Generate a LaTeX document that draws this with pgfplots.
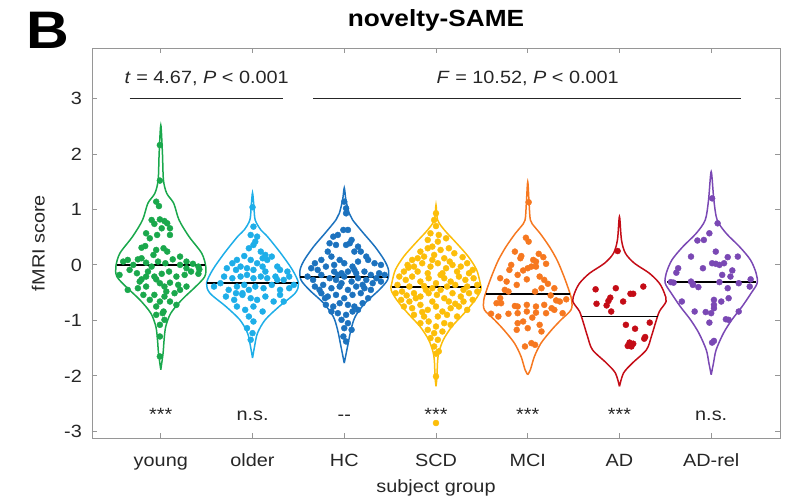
\documentclass[border=0pt]{standalone}
\usepackage{pgfplots}
\pgfplotsset{compat=1.18}
\usepackage{fontspec}
\setmainfont{Liberation Sans}[FakeStretch=1.12]
\definecolor{cyoung}{RGB}{26,168,76}
\definecolor{colder}{RGB}{30,174,232}
\definecolor{chc}{RGB}{28,114,190}
\definecolor{cscd}{RGB}{252,190,10}
\definecolor{cmci}{RGB}{246,120,32}
\definecolor{cad}{RGB}{196,12,22}
\definecolor{cadrel}{RGB}{122,72,180}
\definecolor{axgray}{RGB}{150,150,150}
\definecolor{txt}{RGB}{38,38,38}
\newcommand{\fs}{\fontsize{17.8pt}{21pt}\selectfont}
\begin{document}
\begin{tikzpicture}
\useasboundingbox (-92bp,-64bp) rectangle (703bp,438bp);
\begin{axis}[
 scale only axis, width=688bp, height=390bp,
 xmin=0.25, xmax=7.75, ymin=-3.12, ymax=3.91,
 xtick={1,2,3,4,5,6,7},
 xticklabels={young,older,HC,SCD,MCI,AD,AD-rel},
 ytick={-3,-2,-1,0,1,2,3},
 yticklabels={-3,-2,-1,0,1,2,3},
 tick align=inside, major tick length=5bp,
 axis line style={axgray, line width=0.9bp},
 tick style={axgray, line width=0.9bp},
 xticklabel style={font=\fs, text=txt, anchor=base, inner sep=0pt, yshift=-28bp},
 yticklabel style={font=\fs, text=txt, anchor=east, inner sep=0pt, xshift=-10bp},
 xlabel={subject group}, ylabel={fMRI score},
 xlabel style={font=\fs, text=txt, at={(axis description cs:0.5,-0.141)}, anchor=base},
 ylabel style={font=\fs, text=txt, at={(axis description cs:-0.078,0.5)}, anchor=center},
 title={novelty-SAME},
 title style={font=\fontsize{23.5pt}{27pt}\selectfont\bfseries, text=black, at={(axis description cs:0.5,1)}, anchor=base, yshift=16bp},
 clip=false,
]
% ---------- violin outlines ----------
\addplot[cyoung, line width=1.5bp, smooth, tension=0.5] coordinates {
(1,-1.89)(1.025,-1.59)(1.036,-1.35)(1.054,-1.11)(1.109,-0.87)(1.228,-0.63)(1.381,-0.39)(1.479,-0.21)(1.490,-0.03)(1.446,0.21)(1.308,0.51)(1.199,0.81)(1.141,1.11)(1.065,1.29)(1.029,1.53)(1.018,2.01)(1,2.52)
(0.982,2.01)(0.971,1.53)(0.935,1.29)(0.859,1.11)(0.801,0.81)(0.692,0.51)(0.554,0.21)(0.510,-0.03)(0.521,-0.21)(0.619,-0.39)(0.772,-0.63)(0.891,-0.87)(0.946,-1.11)(0.964,-1.35)(0.975,-1.59)(1,-1.89)};
\addplot[colder, line width=1.5bp, smooth, tension=0.5] coordinates {
(2,-1.68)(2.022,-1.47)(2.054,-1.23)(2.138,-0.99)(2.290,-0.75)(2.464,-0.51)(2.501,-0.33)(2.435,-0.09)(2.308,0.21)(2.163,0.51)(2.091,0.63)(2.029,0.81)(2.015,1.05)(2,1.30)
(1.985,1.05)(1.971,0.81)(1.909,0.63)(1.837,0.51)(1.692,0.21)(1.565,-0.09)(1.499,-0.33)(1.536,-0.51)(1.710,-0.75)(1.862,-0.99)(1.946,-1.23)(1.978,-1.47)(2,-1.68)};
\addplot[chc, line width=1.5bp, smooth, tension=0.5] coordinates {
(3,-1.77)(3.036,-1.47)(3.073,-1.17)(3.120,-0.93)(3.225,-0.69)(3.381,-0.45)(3.472,-0.27)(3.482,-0.09)(3.435,0.09)(3.334,0.33)(3.210,0.57)(3.091,0.81)(3.054,0.93)(3.018,1.17)(3,1.39)
(2.982,1.17)(2.946,0.93)(2.909,0.81)(2.790,0.57)(2.666,0.33)(2.565,0.09)(2.518,-0.09)(2.528,-0.27)(2.619,-0.45)(2.775,-0.69)(2.880,-0.93)(2.927,-1.17)(2.964,-1.47)(3,-1.77)};
\addplot[cscd, line width=1.5bp, smooth, tension=0.5] coordinates {
(4,-2.19)(4.012,-2.0)(4.015,-1.8)(4.029,-1.59)(4.080,-1.35)(4.174,-1.11)(4.308,-0.87)(4.428,-0.63)(4.490,-0.45)(4.482,-0.33)(4.443,-0.09)(4.352,0.15)(4.225,0.39)(4.091,0.63)(4.018,0.81)(4,1.08)
(3.982,0.81)(3.909,0.63)(3.775,0.39)(3.648,0.15)(3.557,-0.09)(3.518,-0.33)(3.510,-0.45)(3.572,-0.63)(3.692,-0.87)(3.826,-1.11)(3.920,-1.35)(3.971,-1.59)(3.985,-1.8)(3.988,-2.0)(4,-2.19)};
\addplot[cmci, line width=1.5bp, smooth, tension=0.5] coordinates {
(5,-1.98)(5.029,-1.89)(5.073,-1.65)(5.145,-1.41)(5.261,-1.17)(5.363,-0.99)(5.472,-0.81)(5.479,-0.63)(5.435,-0.39)(5.381,-0.15)(5.319,0.09)(5.236,0.33)(5.134,0.57)(5.073,0.69)(5.029,0.81)(5.015,1.11)(5,1.50)
(4.985,1.11)(4.971,0.81)(4.927,0.69)(4.866,0.57)(4.764,0.33)(4.681,0.09)(4.619,-0.15)(4.565,-0.39)(4.521,-0.63)(4.528,-0.81)(4.637,-0.99)(4.739,-1.17)(4.855,-1.41)(4.927,-1.65)(4.971,-1.89)(5,-1.98)};
\addplot[cad, line width=1.5bp, smooth, tension=0.5] coordinates {
(6,-2.19)(6.044,-1.95)(6.141,-1.77)(6.294,-1.53)(6.348,-1.29)(6.392,-1.05)(6.435,-0.84)(6.508,-0.66)(6.490,-0.51)(6.435,-0.33)(6.326,-0.15)(6.163,0.03)(6.065,0.21)(6.022,0.45)(6,0.87)
(5.978,0.45)(5.935,0.21)(5.837,0.03)(5.674,-0.15)(5.565,-0.33)(5.510,-0.51)(5.492,-0.66)(5.565,-0.84)(5.608,-1.05)(5.652,-1.29)(5.706,-1.53)(5.859,-1.77)(5.956,-1.95)(6,-2.19)};
\addplot[cadrel, line width=1.5bp, smooth, tension=0.5] coordinates {
(7,-1.98)(7.025,-1.77)(7.054,-1.53)(7.134,-1.23)(7.225,-0.99)(7.337,-0.75)(7.435,-0.51)(7.501,-0.33)(7.490,-0.15)(7.428,0.09)(7.308,0.33)(7.163,0.57)(7.065,0.81)(7.029,1.17)(7,1.68)
(6.971,1.17)(6.935,0.81)(6.837,0.57)(6.692,0.33)(6.572,0.09)(6.510,-0.15)(6.499,-0.33)(6.565,-0.51)(6.663,-0.75)(6.775,-0.99)(6.866,-1.23)(6.946,-1.53)(6.975,-1.77)(7,-1.98)};
% ---------- points ----------
\addplot[only marks, mark=*, mark size=3bp, color=cyoung, mark options={draw=cyoung, fill=cyoung}] coordinates {
(0.99,2.16)(0.99,1.52)(0.95,1.14)(0.98,1.06)(0.90,0.81)(0.93,0.74)(0.99,0.82)(1.04,0.79)(1.07,0.75)(1.10,0.66)(1.01,0.66)(0.96,0.54)(0.84,0.57)(0.88,0.48)(0.79,0.31)(0.83,0.34)(0.95,0.27)(1.03,0.30)(1.07,0.24)(1.21,0.15)(0.92,0.18)(0.59,0.06)(0.64,0.09)(0.70,0.00)(0.75,0.10)(0.84,0.04)(0.90,-0.03)(0.97,0.06)(1.05,0.03)(1.13,0.10)(1.21,0.00)(1.28,0.06)(1.35,0.02)(1.41,-0.03)(0.55,-0.18)(0.66,-0.09)(0.74,-0.15)(0.79,-0.26)(0.86,-0.12)(0.93,-0.21)(1.01,-0.16)(1.09,-0.12)(1.17,-0.21)(1.26,-0.18)(1.33,-0.12)(1.41,-0.16)(1.42,-0.08)(0.64,-0.45)(0.77,-0.30)(0.84,-0.39)(0.95,-0.26)(0.99,-0.33)(1.04,-0.39)(1.10,-0.32)(1.19,-0.36)(1.21,-0.45)(1.28,-0.39)(1.15,-0.51)(0.81,-0.54)(0.88,-0.63)(0.99,-0.66)(1.04,-0.57)(1.10,-0.66)(1.17,-0.72)(0.95,-0.75)(0.95,-0.90)(1.02,-0.87)(1.04,-0.99)(0.99,-1.08)(1.03,-0.84)(0.99,-1.29)(0.99,-1.65)(1.10,0.54)(0.79,0.12)(1.28,-0.06)(0.84,-0.21)(1.06,-0.48)(0.93,-0.54)(0.75,-0.42)};
\addplot[only marks, mark=*, mark size=3bp, color=colder, mark options={draw=colder, fill=colder}] coordinates {
(2.00,1.04)(2.01,0.69)(1.98,0.54)(2.05,0.51)(2.03,0.42)(2.01,0.36)(1.96,0.30)(2.09,0.24)(2.14,0.18)(1.91,0.16)(1.83,0.09)(1.78,0.03)(2.21,0.15)(1.98,0.09)(2.05,0.03)(2.11,-0.03)(2.16,0.09)(2.27,-0.03)(2.30,-0.09)(1.72,-0.06)(1.82,-0.09)(1.87,-0.03)(1.94,-0.06)(2.01,-0.09)(2.25,-0.21)(2.38,-0.12)(1.69,-0.21)(1.78,-0.24)(1.87,-0.21)(1.94,-0.18)(2.01,-0.24)(2.09,-0.21)(2.16,-0.24)(2.34,-0.27)(2.40,-0.21)(1.58,-0.39)(1.65,-0.33)(1.74,-0.45)(1.83,-0.39)(1.91,-0.36)(1.96,-0.45)(2.03,-0.39)(2.12,-0.42)(2.21,-0.36)(2.30,-0.45)(2.40,-0.42)(2.45,-0.36)(1.71,-0.57)(1.80,-0.63)(1.89,-0.54)(1.98,-0.60)(2.05,-0.63)(2.14,-0.57)(2.23,-0.66)(2.30,-0.54)(1.83,-0.75)(1.92,-0.81)(2.01,-0.75)(2.11,-0.84)(1.96,-0.93)(2.01,-1.02)(1.94,-1.14)(2.00,-1.23)(1.98,-1.35)(1.89,-0.51)(2.34,-0.66)(1.82,-0.51)(2.27,-0.27)(2.14,-0.12)(2.11,0.12)};
\addplot[only marks, mark=*, mark size=3bp, color=chc, mark options={draw=chc, fill=chc}] coordinates {
(3.00,1.14)(3.02,1.02)(3.02,0.93)(2.99,0.63)(2.93,0.54)(2.88,0.51)(3.04,0.63)(3.08,0.45)(2.91,0.36)(3.02,0.36)(3.06,0.39)(3.15,0.33)(3.18,0.24)(2.82,0.24)(2.75,0.09)(2.68,0.03)(2.86,0.15)(2.95,0.09)(3.00,0.03)(3.09,-0.03)(3.15,0.06)(3.26,0.09)(3.33,0.03)(3.40,0.00)(2.64,-0.06)(2.71,-0.09)(2.80,-0.03)(2.89,-0.12)(2.97,-0.15)(3.04,-0.12)(3.13,-0.15)(3.22,-0.12)(3.29,-0.18)(3.38,-0.15)(3.44,-0.18)(2.60,-0.21)(2.66,-0.27)(2.75,-0.18)(2.84,-0.24)(2.91,-0.27)(3.00,-0.21)(3.08,-0.30)(3.15,-0.24)(3.24,-0.27)(3.31,-0.33)(3.40,-0.30)(2.68,-0.39)(2.77,-0.36)(2.86,-0.42)(2.95,-0.39)(3.04,-0.45)(3.13,-0.39)(3.22,-0.42)(3.29,-0.45)(2.75,-0.51)(2.82,-0.57)(2.91,-0.54)(3.00,-0.60)(3.09,-0.54)(3.18,-0.51)(3.26,-0.60)(2.80,-0.72)(2.88,-0.75)(2.95,-0.69)(3.04,-0.72)(3.11,-0.75)(3.20,-0.69)(2.86,-0.84)(2.93,-0.87)(3.02,-0.90)(3.09,-0.84)(3.15,-0.81)(2.97,-0.99)(3.04,-1.05)(3.00,-1.14)(3.08,-1.17)(2.99,-1.29)(3.02,-1.38)(2.93,-0.18)(2.97,-0.33)(2.89,0.00)(3.11,-0.09)(3.20,-0.36)(2.73,-0.45)(3.35,-0.24)(2.84,0.39)(3.11,0.24)(2.79,-0.60)(3.24,0.15)};
\addplot[only marks, mark=*, mark size=3bp, color=cscd, mark options={draw=cscd, fill=cscd}] coordinates {
(4.00,0.93)(3.98,0.81)(4.00,0.70)(3.94,0.57)(4.03,0.54)(3.91,0.45)(4.02,0.42)(4.11,0.48)(3.96,0.33)(3.83,0.24)(3.91,0.30)(4.05,0.27)(4.14,0.30)(4.20,0.21)(3.80,0.12)(3.87,0.15)(3.98,0.18)(4.09,0.12)(4.29,0.14)(3.74,0.09)(3.69,0.00)(3.76,-0.03)(3.85,0.03)(3.94,-0.03)(4.02,0.03)(4.11,-0.06)(4.18,0.00)(4.27,-0.03)(4.34,0.03)(3.65,-0.12)(3.80,-0.12)(3.91,-0.15)(4.07,-0.15)(4.23,-0.12)(4.40,-0.09)(3.60,-0.21)(3.67,-0.27)(3.74,-0.21)(3.83,-0.30)(3.92,-0.24)(4.00,-0.33)(4.09,-0.24)(4.16,-0.30)(4.25,-0.21)(4.32,-0.27)(4.41,-0.24)(3.58,-0.36)(3.71,-0.39)(3.87,-0.38)(3.96,-0.42)(4.12,-0.39)(4.21,-0.36)(4.34,-0.39)(4.45,-0.36)(3.56,-0.51)(3.63,-0.48)(3.76,-0.51)(3.83,-0.57)(3.92,-0.51)(4.01,-0.54)(4.09,-0.60)(4.18,-0.51)(4.27,-0.57)(4.36,-0.51)(4.45,-0.48)(3.62,-0.63)(3.71,-0.66)(3.96,-0.66)(4.14,-0.66)(4.30,-0.66)(4.40,-0.63)(3.65,-0.75)(3.74,-0.78)(3.83,-0.72)(3.91,-0.81)(4.00,-0.75)(4.07,-0.84)(4.16,-0.78)(4.25,-0.75)(4.34,-0.81)(3.76,-0.90)(3.87,-0.93)(4.02,-0.93)(4.12,-0.90)(4.23,-0.93)(3.83,-1.05)(3.92,-1.02)(4.00,-1.11)(4.09,-1.05)(4.16,-1.08)(3.91,-1.17)(3.98,-1.23)(4.07,-1.20)(3.94,-1.32)(4.02,-1.35)(3.98,-1.47)(4.03,-1.56)(4.00,-1.60)(4.00,-2.01)(4.00,-2.85)(3.70,-0.05)(4.36,-0.15)(3.89,-0.45)(4.05,-0.45)(3.78,-0.60)(4.21,-0.70)(3.96,0.09)(4.15,0.06)(3.85,-0.85)(4.30,-0.45)(3.68,-0.55)(4.05,-0.18)};
\addplot[only marks, mark=*, mark size=3bp, color=cmci, mark options={draw=cmci, fill=cmci}] coordinates {
(5.01,1.13)(4.98,0.49)(5.01,0.42)(4.86,0.24)(4.93,0.16)(4.92,0.12)(5.06,0.09)(5.09,0.06)(5.17,0.14)(4.82,0.00)(4.80,-0.09)(5.04,-0.03)(5.00,-0.06)(5.09,-0.03)(5.20,0.02)(4.70,-0.24)(4.77,-0.30)(4.89,-0.18)(4.99,-0.26)(5.13,-0.21)(5.18,-0.27)(5.22,-0.34)(5.29,-0.42)(4.88,-0.36)(4.75,-0.45)(4.79,-0.48)(5.08,-0.48)(5.15,-0.42)(4.66,-0.69)(4.71,-0.69)(4.86,-0.74)(4.89,-0.75)(4.99,-0.72)(5.09,-0.75)(5.18,-0.72)(5.26,-0.78)(5.31,-0.64)(5.35,-0.66)(5.42,-0.62)(4.60,-0.88)(4.68,-0.93)(4.79,-0.88)(4.89,-0.87)(4.99,-0.84)(5.09,-0.86)(5.20,-0.87)(5.29,-0.81)(5.38,-0.87)(4.89,-1.05)(4.95,-1.02)(5.00,-1.14)(5.13,-1.08)(5.15,-1.20)(4.88,-1.17)(4.97,-1.47)(5.04,-1.41)(5.08,-1.44)(5.12,0.20)(4.95,-0.10)(5.25,-0.55)(4.70,-0.60)(5.05,-0.95)};
\addplot[only marks, mark=*, mark size=3bp, color=cad, mark options={draw=cad, fill=cad}] coordinates {
(5.98,0.25)(5.74,-0.44)(5.96,-0.42)(6.26,-0.39)(5.90,-0.59)(5.88,-0.65)(5.75,-0.70)(5.86,-0.73)(6.04,-0.66)(6.12,-0.52)(6.15,-0.52)(5.91,-0.84)(6.07,-1.08)(6.17,-1.15)(6.33,-1.04)(6.28,-1.30)(6.27,-1.33)(6.11,-1.40)(6.09,-1.46)(6.13,-1.47)(6.15,-1.42)};
\addplot[only marks, mark=*, mark size=3bp, color=cadrel, mark options={draw=cadrel, fill=cadrel}] coordinates {
(7.01,1.20)(7.07,0.75)(6.98,0.57)(6.85,0.44)(6.92,0.45)(6.78,0.15)(7.05,0.24)(7.18,0.14)(7.29,0.15)(6.64,-0.06)(6.62,-0.14)(6.91,-0.06)(7.01,0.03)(7.05,0.02)(7.09,0.00)(7.14,0.03)(7.23,-0.10)(7.12,-0.18)(7.21,-0.21)(6.56,-0.31)(6.59,-0.32)(6.78,-0.30)(6.80,-0.34)(6.86,-0.40)(6.80,-0.36)(7.09,-0.31)(7.18,-0.42)(7.30,-0.33)(7.43,-0.26)(7.42,-0.39)(6.68,-0.66)(6.82,-0.84)(6.94,-0.85)(7.00,-0.87)(7.03,-0.63)(7.03,-0.72)(7.03,-0.78)(7.11,-0.66)(7.19,-0.60)(7.30,-0.84)(7.16,-0.98)(7.19,-0.99)(6.98,-1.04)(7.01,-1.40)(7.03,-1.37)};
% ---------- medians ----------
\addplot[black, line width=1.8bp] coordinates {(0.52,0.00)(1.48,0.00)};
\addplot[black, line width=1.8bp] coordinates {(1.50,-0.32)(2.50,-0.32)};
\addplot[black, line width=1.8bp] coordinates {(2.52,-0.22)(3.48,-0.22)};
\addplot[black, line width=1.8bp] coordinates {(3.52,-0.40)(4.49,-0.40)};
\addplot[black, line width=1.8bp] coordinates {(4.54,-0.52)(5.46,-0.52)};
\addplot[black, line width=1.8bp] coordinates {(5.59,-0.93)(6.42,-0.93)};
\addplot[black, line width=1.8bp] coordinates {(6.52,-0.31)(7.49,-0.31)};
% ---------- statistics ----------
\addplot[txt, line width=1.6bp] coordinates {(0.66,3)(2.33,3)};
\addplot[txt, line width=1.6bp] coordinates {(2.66,3)(7.33,3)};
\node[font=\fs, text=txt, anchor=base] at (axis cs:1.5,3.27) {\textit{t} = 4.67, \textit{P} < 0.001};
\node[font=\fs, text=txt, anchor=base] at (axis cs:5.0,3.27) {\textit{F} = 10.52, \textit{P} < 0.001};
\node[font=\fs, text=txt, anchor=base] at (axis cs:1,-2.80) {***};
\node[font=\fs, text=txt, anchor=base] at (axis cs:2,-2.80) {n.s.};
\node[font=\fs, text=txt, anchor=base] at (axis cs:3,-2.80) {{-}{-}};
\node[font=\fs, text=txt, anchor=base] at (axis cs:4,-2.80) {***};
\node[font=\fs, text=txt, anchor=base] at (axis cs:5,-2.80) {***};
\node[font=\fs, text=txt, anchor=base] at (axis cs:6,-2.80) {***};
\node[font=\fs, text=txt, anchor=base] at (axis cs:7,-2.80) {n.s.};
\node[font=\fontsize{53pt}{60pt}\selectfont\bfseries, text=black, anchor=base west, inner sep=0pt] at (axis description cs:-0.0959,1) {B};
\end{axis}
\end{tikzpicture}
\end{document}
